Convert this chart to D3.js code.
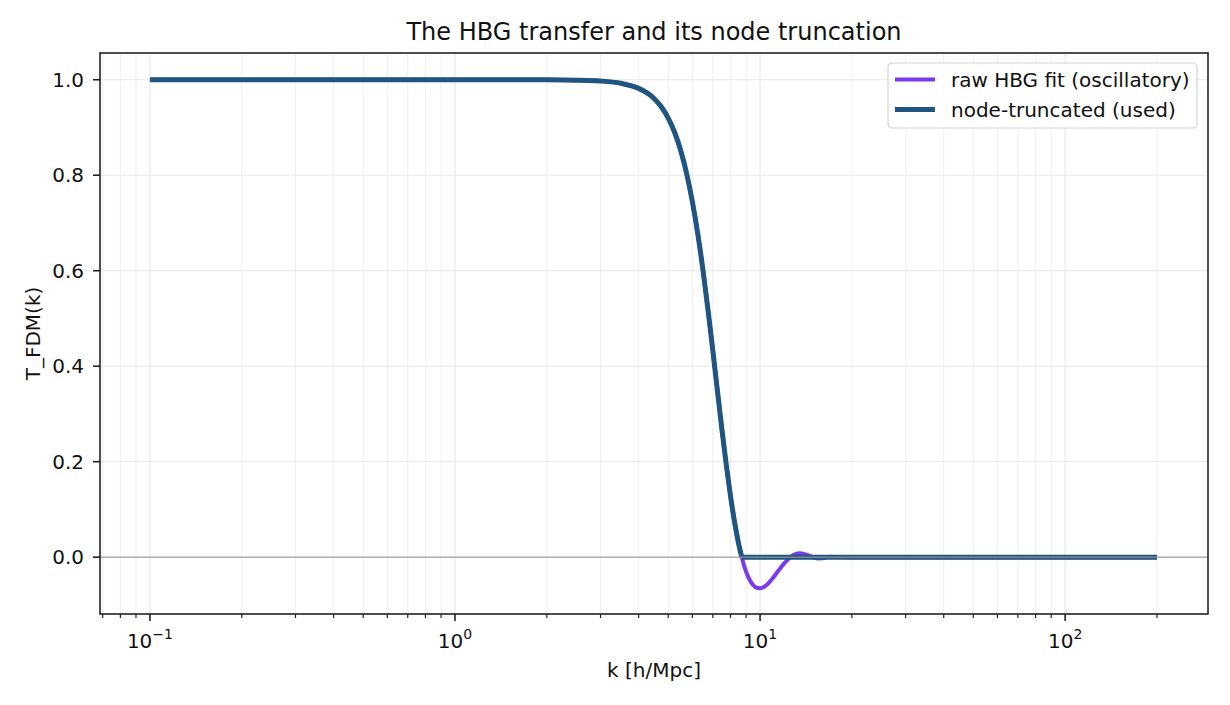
<!DOCTYPE html>
<html>
<head>
<meta charset="utf-8">
<script src="https://cdn.jsdelivr.net/npm/d3@7"></script>
<style>
  body { margin: 0; background: #fff; }
  svg { font-family: "DejaVu Sans", sans-serif; }
</style>
</head>
<body>
<div id="chart"></div>
<script>
// k in h/Mpc
const kValues = [0.1, 0.5, 1, 1.5, 2, 2.5, 3, 3.5, 4, 4.25, 4.5, 4.75, 5, 5.25, 5.5, 5.75,
  6, 6.25, 6.5, 6.75, 7, 7.25, 7.5, 7.75, 8, 8.25, 8.5, 8.71, 9, 9.25, 9.5, 9.75, 10,
  10.25, 10.5, 11, 11.5, 12, 12.5, 13, 13.5, 14, 14.5, 15, 15.5, 16, 17, 18, 20, 30, 50, 100, 200];

const rawT = [1.0, 1.0, 1.0, 1.0, 0.9998, 0.9991, 0.9973, 0.9925, 0.9819, 0.9729, 0.9603, 0.9430,
  0.9198, 0.8895, 0.8508, 0.8027, 0.7446, 0.6770, 0.6009, 0.5186, 0.4331, 0.3482, 0.2672,
  0.1932, 0.1282, 0.0735, 0.0292, 0.0, -0.0305, -0.0479, -0.0588, -0.0641, -0.0651, -0.0628,
  -0.0582, -0.0442, -0.0278, -0.0130, -0.0011, 0.0059, 0.0081, 0.0065, 0.0029, -0.0007,
  -0.0025, -0.0022, 0.0009, 0.0002, 0.0, 0.0, 0.0, 0.0, 0.0];

const truncT = [1.0, 1.0, 1.0, 1.0, 0.9998, 0.9991, 0.9973, 0.9925, 0.9819, 0.9729, 0.9603, 0.9430,
  0.9198, 0.8895, 0.8508, 0.8027, 0.7446, 0.6770, 0.6009, 0.5186, 0.4331, 0.3482, 0.2672,
  0.1932, 0.1282, 0.0735, 0.0292, 0.0, 0, 0, 0, 0, 0, 0, 0, 0, 0, 0, 0, 0, 0, 0, 0, 0, 0,
  0, 0, 0, 0, 0, 0, 0, 0];

const kNode = 8.71;
const yTicks = [0.0, 0.2, 0.4, 0.6, 0.8, 1.0];
const xDecades = [-1, 0, 1, 2];
const seriesNames = ["raw HBG fit (oscillatory)", "node-truncated (used)"];
const seriesColors = ["#7b3bec", "#1f5580"];

const W = 1230, H = 705;
const margin = { top: 53, right: 22, bottom: 91, left: 100 };
const width = W - margin.left - margin.right,
  height = H - margin.top - margin.bottom;

const svg = d3.select("#chart").append("svg")
  .attr("width", W)
  .attr("height", H);

const chart = svg.append("g")
  .attr("transform", `translate(${margin.left},${margin.top})`);

const x = d3.scaleLog().domain([0.0686, 294]).range([0, width]);
const y = d3.scaleLinear().domain([-0.119, 1.056]).range([height, 0]);

// minor log ticks
const minorTicks = [];
for (let e = -2; e <= 2; e++) {
  for (let m = 2; m <= 9; m++) {
    const v = m * Math.pow(10, e);
    if (v >= x.domain()[0] && v <= x.domain()[1]) minorTicks.push(v);
  }
}
const majorTicks = xDecades.map(e => Math.pow(10, e));

// grid
chart.append("g").selectAll("line.minor")
  .data(minorTicks).enter().append("line")
  .attr("x1", d => x(d)).attr("x2", d => x(d))
  .attr("y1", 0).attr("y2", height)
  .attr("stroke", "#efefef").attr("stroke-width", 1);

chart.append("g").selectAll("line.major")
  .data(majorTicks).enter().append("line")
  .attr("x1", d => x(d)).attr("x2", d => x(d))
  .attr("y1", 0).attr("y2", height)
  .attr("stroke", "#e6e6e6").attr("stroke-width", 1);

chart.append("g").selectAll("line.ygrid")
  .data(yTicks).enter().append("line")
  .attr("x1", 0).attr("x2", width)
  .attr("y1", d => y(d)).attr("y2", d => y(d))
  .attr("stroke", "#e6e6e6").attr("stroke-width", 1);

// curves
const rawData = kValues.map((k, i) => ({ k: k, t: rawT[i] }));
const truncData = kValues.map((k, i) => ({ k: k, t: truncT[i] }));

const line = d3.line()
  .x(d => x(d.k))
  .y(d => y(d.t))
  .curve(d3.curveMonotoneX);

chart.append("path")
  .attr("d", line(rawData))
  .attr("fill", "none")
  .attr("stroke", seriesColors[0])
  .attr("stroke-width", 4)
  .attr("stroke-linejoin", "round");

// truncated: smooth part before the node, flat after it
chart.append("path")
  .attr("d", line(truncData.filter(d => d.k <= kNode)))
  .attr("fill", "none")
  .attr("stroke", seriesColors[1])
  .attr("stroke-width", 5);

chart.append("path")
  .attr("d", line.curve(d3.curveLinear)(truncData.filter(d => d.k >= kNode)))
  .attr("fill", "none")
  .attr("stroke", seriesColors[1])
  .attr("stroke-width", 5);

// zero line on top
chart.append("line")
  .attr("x1", 0).attr("x2", width)
  .attr("y1", y(0)).attr("y2", y(0))
  .attr("stroke", "#999").attr("stroke-opacity", 0.75)
  .attr("stroke-width", 1.6);

// spines
chart.append("rect")
  .attr("width", width).attr("height", height)
  .attr("fill", "none").attr("stroke", "#222").attr("stroke-width", 1.6);

// x ticks
chart.append("g").selectAll("line")
  .data(minorTicks).enter().append("line")
  .attr("x1", d => x(d)).attr("x2", d => x(d))
  .attr("y1", height).attr("y2", height + 4)
  .attr("stroke", "#222").attr("stroke-width", 1.2);

chart.append("g").selectAll("line")
  .data(majorTicks).enter().append("line")
  .attr("x1", d => x(d)).attr("x2", d => x(d))
  .attr("y1", height).attr("y2", height + 7)
  .attr("stroke", "#222").attr("stroke-width", 1.6);

const xLabels = chart.append("g").selectAll("text")
  .data(xDecades).enter().append("text")
  .attr("x", d => x(Math.pow(10, d)))
  .attr("y", height + 34)
  .attr("text-anchor", "middle")
  .style("font-size", "20px")
  .attr("fill", "#111");
xLabels.append("tspan").text("10");
xLabels.append("tspan")
  .attr("dy", -9)
  .style("font-size", "14px")
  .text(d => String(d).replace("-", "\u2212"));

// y ticks
chart.append("g").selectAll("line")
  .data(yTicks).enter().append("line")
  .attr("x1", -7).attr("x2", 0)
  .attr("y1", d => y(d)).attr("y2", d => y(d))
  .attr("stroke", "#222").attr("stroke-width", 1.6);

chart.append("g").selectAll("text")
  .data(yTicks).enter().append("text")
  .attr("x", -16)
  .attr("y", d => y(d))
  .attr("dy", "0.36em")
  .attr("text-anchor", "end")
  .style("font-size", "20px")
  .attr("fill", "#111")
  .text(d => d.toFixed(1));

// axis labels + title
svg.append("text")
  .attr("x", margin.left + width / 2)
  .attr("y", 677)
  .attr("text-anchor", "middle")
  .style("font-size", "20px")
  .attr("fill", "#111")
  .text("k [h/Mpc]");

svg.append("text")
  .attr("transform", `translate(40,${margin.top + height / 2}) rotate(-90)`)
  .attr("text-anchor", "middle")
  .style("font-size", "20px")
  .attr("fill", "#111")
  .text("T_FDM(k)");

svg.append("text")
  .attr("x", margin.left + width / 2)
  .attr("y", 40)
  .attr("text-anchor", "middle")
  .style("font-size", "24px")
  .attr("fill", "#111")
  .text("The HBG transfer and its node truncation");

// legend
const legend = svg.append("g").attr("transform", "translate(888,63)");
legend.append("rect")
  .attr("width", 309).attr("height", 65)
  .attr("rx", 4)
  .attr("fill", "#fff").attr("fill-opacity", 0.8)
  .attr("stroke", "#d4d4d4").attr("stroke-width", 1.2);

legend.selectAll("line")
  .data(seriesNames).enter().append("line")
  .attr("x1", 7).attr("x2", 47)
  .attr("y1", (d, i) => 16.5 + i * 30).attr("y2", (d, i) => 16.5 + i * 30)
  .attr("stroke", (d, i) => seriesColors[i])
  .attr("stroke-width", (d, i) => i === 0 ? 4 : 5);

legend.selectAll("text")
  .data(seriesNames).enter().append("text")
  .attr("x", 63)
  .attr("y", (d, i) => 16.5 + i * 30)
  .attr("dy", "0.36em")
  .style("font-size", "20px")
  .attr("fill", "#111")
  .text(d => d);
</script>
</body>
</html>
